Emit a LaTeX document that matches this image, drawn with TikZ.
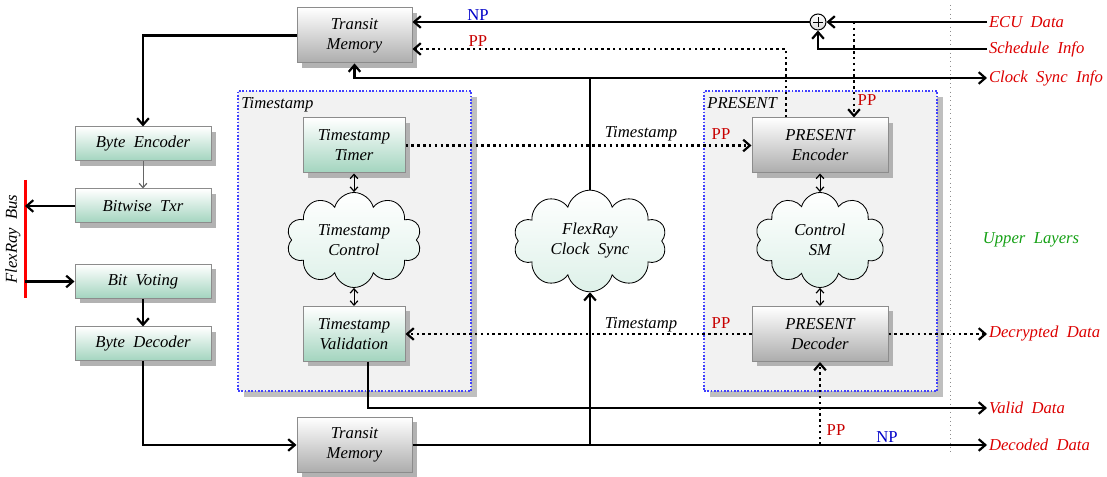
\documentclass[tikz,border=0pt]{standalone}
\usepackage{fontspec}
\setmainfont{Liberation Serif}
\usetikzlibrary{shapes.symbols,shadows,arrows.meta,calc}
\definecolor{tealbot}{RGB}{162,212,190}
\definecolor{graybot}{RGB}{172,172,172}
\definecolor{cloudbot}{RGB}{222,241,233}
\definecolor{labred}{RGB}{220,0,0}
\definecolor{ppred}{RGB}{200,0,0}
\definecolor{npblue}{RGB}{0,0,200}
\definecolor{upgreen}{RGB}{20,160,20}
\begin{document}
\begin{tikzpicture}[x=0.6pt,y=-0.6pt,
  font=\fontsize{10}{12}\selectfont\itshape,
  tip/.tip={Straight Barb[length=4pt,width=7pt,line width=1.3pt]},
  smalltip/.tip={Straight Barb[length=2.6pt,width=4.6pt,line width=0.7pt]},
  shad/.style={drop shadow={shadow xshift=3pt,shadow yshift=-3pt,fill=black!30,opacity=1}},
  greenbox/.style={draw=black!45,line width=0.6pt,top color=white,bottom color=tealbot,shad,
     minimum width=81.6pt,minimum height=20.4pt,inner sep=1pt,align=center},
  graybox/.style={draw=black!45,line width=0.6pt,top color=white,bottom color=graybot,shad,
     minimum width=69pt,minimum height=33pt,inner sep=1pt,align=center},
  cloudnode/.style={cloud,cloud puffs=10,cloud ignores aspect,draw=black,line width=0.5pt,
     top color=white,bottom color=cloudbot,align=center,inner sep=0pt},
  group/.style={draw=blue!75,densely dotted,line width=1pt,fill=black!5,
     drop shadow={shadow xshift=3.6pt,shadow yshift=-3.6pt,fill=black!25,opacity=1},
     minimum width=139.8pt,minimum height=180pt,inner sep=0pt},
  outlab/.style={anchor=west,text=labred,inner sep=1pt},
  pp/.style={font=\fontsize{10}{12}\selectfont\upshape,text=ppred,inner sep=1pt},
  np/.style={font=\fontsize{10}{12}\selectfont\upshape,text=npblue,inner sep=1pt},
  thickline/.style={line width=1.5pt},
  thickarrow/.style={line width=1.5pt,-tip},
  dotarrow/.style={line width=1.5pt,dotted,-tip},
  dotline/.style={line width=1.5pt,dotted},
  dbl/.style={line width=0.6pt,smalltip-smalltip},
]
\useasboundingbox (0,0) rectangle (1107,477);

% groups
\node[group] (tsgroup) at (354.5,241) {};
\node[anchor=north west,inner sep=0pt] (tslab) at (241,97) {Timestamp};
\node[group] (prgroup) at (820.5,241) {};
\node[anchor=north west,inner sep=0pt] (prlab) at (707,97) {PRESENT};

% separator
\draw[black!45,dotted,line width=0.6pt] (950,5) coordinate (sepT) -- (950,452) coordinate (sepB);

% left column
\node[graybox] (tmt) at (354.5,35.5) {Transit\\Memory};
\node[graybox] (tmb) at (354.5,445) {Transit\\Memory};
\node[greenbox] (benc) at (143,144) {Byte\ \ Encoder};
\node[greenbox] (btx) at (143,206) {Bitwise\ \ Txr};
\node[greenbox] (bv) at (143,281.5) {Bit\ \ Voting};
\node[greenbox] (bdec) at (143,344) {Byte\ \ Decoder};

% bus
\coordinate (busT) at (25,180);
\coordinate (busB) at (25,298);
\draw[red,line width=1.8pt] (busT) -- (busB);
\node[rotate=90,inner sep=0pt] (buslab) at (13,239) {FlexRay\ \ Bus};

% timestamp block
\node[greenbox,minimum width=61.2pt,minimum height=33pt] (ttim) at (354,145.5) {Timestamp\\Timer};
\node[cloudnode,minimum width=81pt,minimum height=57pt] (tctl) at (354,240) {Timestamp\\Control};
\node[greenbox,minimum width=61.2pt,minimum height=33pt] (tval) at (354,334) {Timestamp\\Validation};

% flexray clock sync
\node[cloudnode,minimum width=92pt,minimum height=61pt] (fcs) at (590,241) {FlexRay\\Clock\ \ Sync};

% present block
\node[graybox,minimum width=81.6pt,minimum height=33pt] (penc) at (820,145.5) {PRESENT\\Encoder};
\node[cloudnode,minimum width=78pt,minimum height=57pt] (csm) at (820,240) {Control\\SM};
\node[graybox,minimum width=81.6pt,minimum height=33pt] (pdec) at (820,334) {PRESENT\\Decoder};

% plus
\node[circle,draw=black,line width=0.6pt,top color=white,bottom color=black!15,minimum size=9.6pt,inner sep=0pt,
  path picture={\draw[line width=0.5pt] ($(path picture bounding box.north)!0.2!(path picture bounding box.south)$) -- ($(path picture bounding box.north)!0.8!(path picture bounding box.south)$);
  \draw[line width=0.5pt] ($(path picture bounding box.west)!0.2!(path picture bounding box.east)$) -- ($(path picture bounding box.west)!0.8!(path picture bounding box.east)$);}] (plus) at (818,22) {};

% right labels
\node[outlab] (ecu) at (987,22) {ECU\ \ Data};
\node[outlab] (sched) at (987,49) {Schedule\ \ Info};
\node[outlab] (csi) at (987,78) {Clock\ \ Sync\ \ Info};
\node[outlab] (decr) at (987,334) {Decrypted\ \ Data};
\node[outlab] (valid) at (987,408) {Valid\ \ Data};
\node[outlab] (decd) at (987,445) {Decoded\ \ Data};
\node[text=upgreen] (upper) at (1031,240) {Upper\ \ Layers};

% top connectors
\draw[thickarrow] (ecu.west) -- (plus.east);
\draw[thickarrow] (plus.west) -- (plus.west -| tmt.east);
\draw[thickarrow] (sched.west) -| (plus.south);
\coordinate (d1) at (854,22);
\draw[dotarrow] (d1) -- (d1 |- penc.north);
\coordinate (d2) at (786,49);
\draw[dotarrow] (d2 |- penc.north) -- (d2) -- (d2 -| tmt.east);
\coordinate (j1) at (590,78);
\draw[thickline] (fcs.north) -- (j1);
\draw[thickarrow] (j1) -- (csi.west);
\draw[thickarrow] (j1) -| (tmt.south);
\node[np] (np1) at (478,15) {NP};
\node[pp] (pp1) at (478,41) {PP};
\node[pp] (pp2) at (867,100) {PP};

% left connectors
\draw[thickarrow] (tmt.west) -| (benc.north);
\draw[black!60,line width=0.6pt,-smalltip] (benc.south) -- (btx.north);
\draw[thickarrow] (btx.west) -- (btx.west -| busT);
\draw[thickarrow] (bv.west -| busT) -- (bv.west);
\draw[thickarrow] (bv.south) -- (bdec.north);
\draw[thickarrow] (bdec.south) |- (tmb.west);

% inner double arrows
\draw[dbl] (ttim.south) -- (tctl.north);
\draw[dbl] (tctl.south) -- (tval.north);
\draw[dbl] (penc.south) -- (csm.north);
\draw[dbl] (csm.south) -- (pdec.north);

% timestamp links
\draw[dotarrow] (ttim.east) -- (penc.west);
\node[inner sep=1pt] (ts1) at (641,134) {Timestamp};
\node[pp] (pp3) at (721,134) {PP};
\draw[dotarrow] (pdec.west) -- (tval.east);
\node[inner sep=1pt] (ts2) at (641,325) {Timestamp};
\node[pp] (pp4) at (721,323) {PP};
\draw[dotarrow] (pdec.east) -- (decr.west);

% bottom connectors
\coordinate (v0) at (368,362);
\coordinate (v1) at (368,408);
\draw[thickarrow] (v0) -- (v1) -- (valid.west);
\draw[thickarrow] (tmb.east) -- (decd.west);
\coordinate (j2) at (590,445);
\draw[thickarrow] (j2) -- (fcs.south);
\coordinate (j3) at (820,445);
\draw[dotarrow] (j3) -- (pdec.south);
\node[pp] (pp5) at (836,430) {PP};
\node[np] (np2) at (887,437) {NP};
\end{tikzpicture}
\end{document}
